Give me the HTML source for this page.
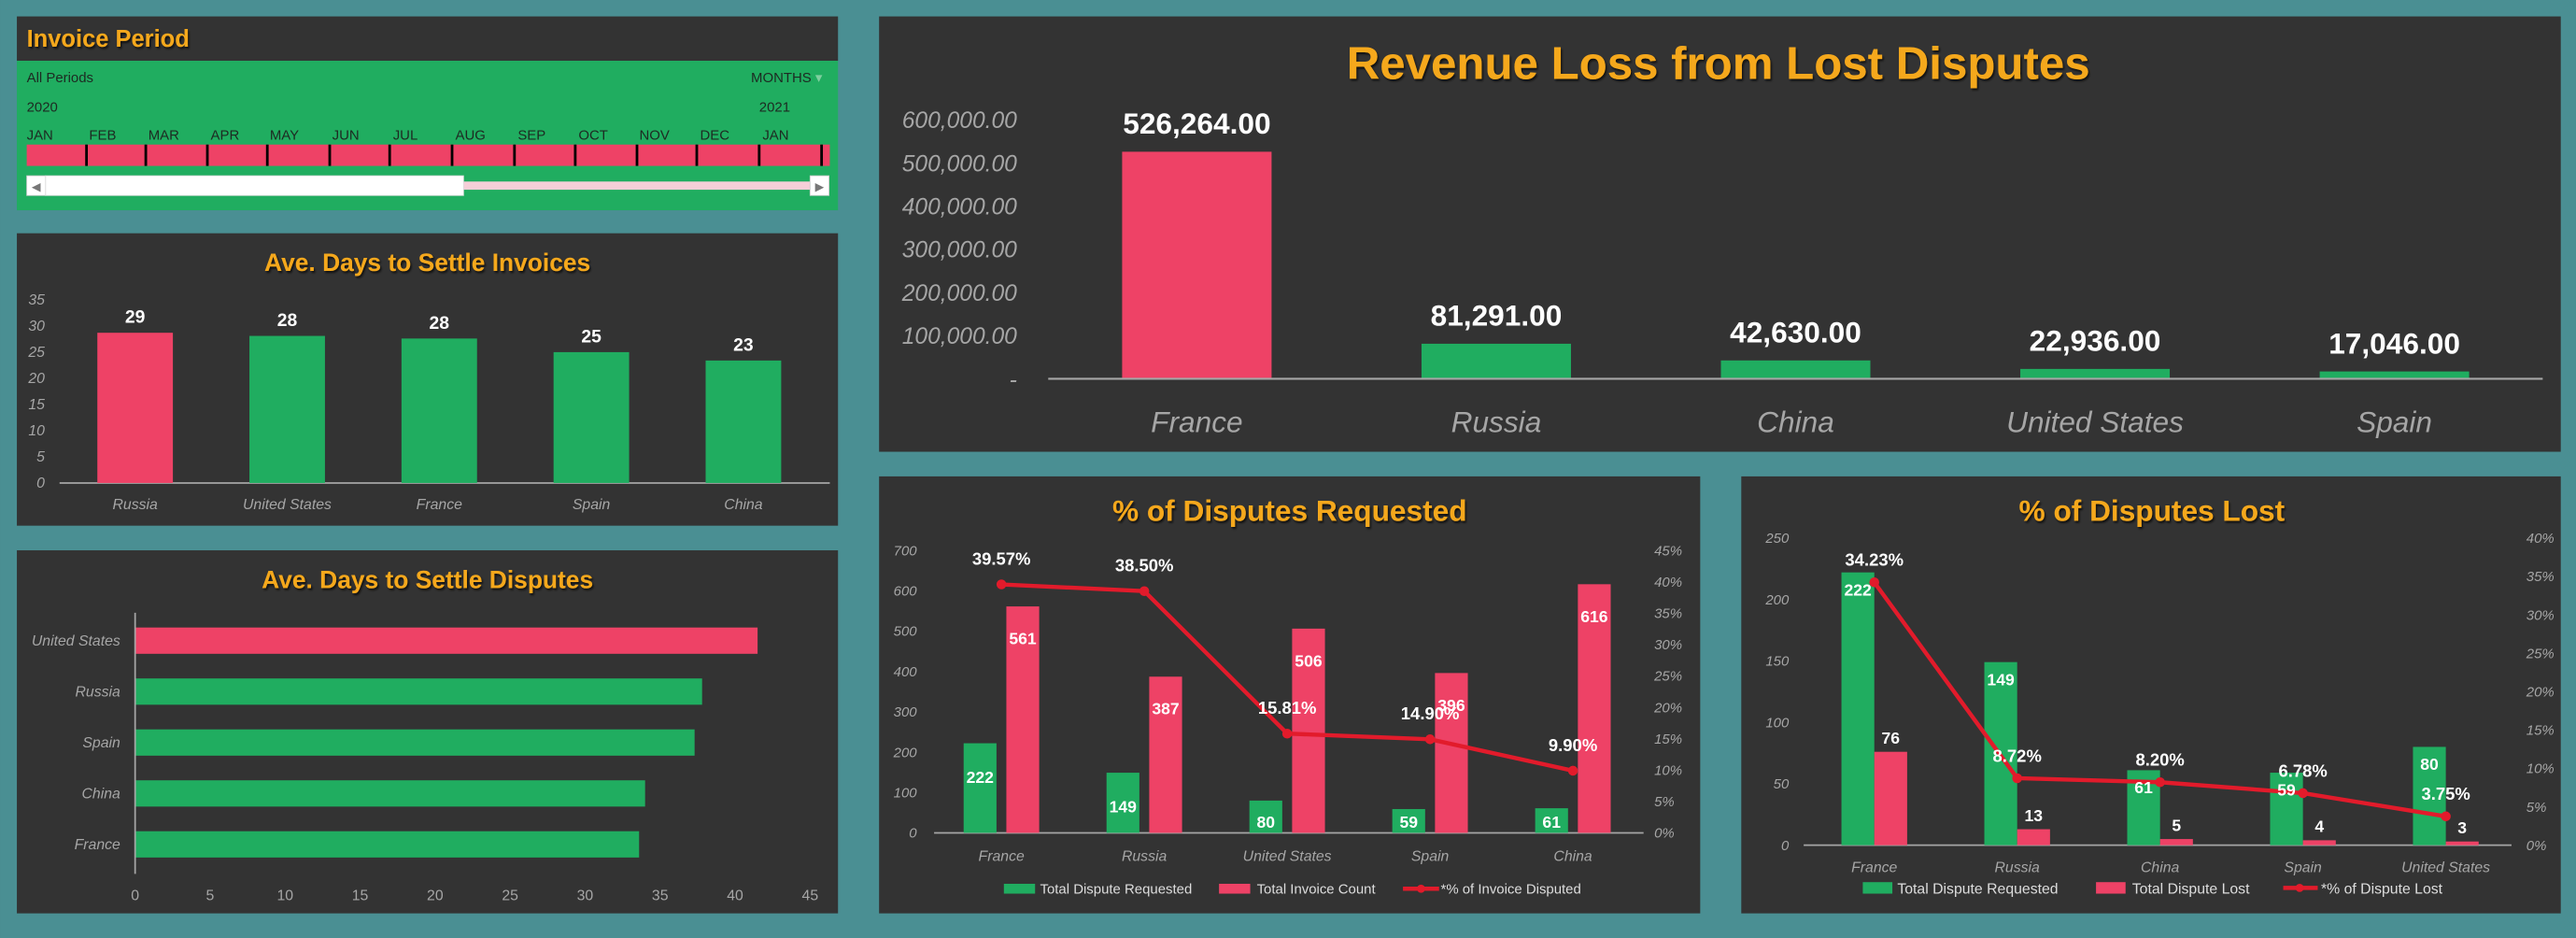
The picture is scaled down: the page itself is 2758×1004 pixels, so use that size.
<!DOCTYPE html>
<html><head><meta charset="utf-8">
<style>
html,body{margin:0;padding:0;background:#4a8f93;width:2758px;height:1004px;overflow:hidden}
svg{display:block}
text{font-family:"Liberation Sans",sans-serif}
.t{fill:#f5a81c;font-weight:bold}
.ax{fill:#a6a6a6;font-style:italic}
.v{fill:#fff;font-weight:bold}
.sl{fill:#1d2a22;font-size:8.5px}
</style></head>
<body>
<svg id="dash" width="2758" height="1004" viewBox="0 0 1568 571" xmlns="http://www.w3.org/2000/svg">
<defs><filter id="sh" x="-5%" y="-20%" width="110%" height="150%"><feDropShadow dx="0.8" dy="1.2" stdDeviation="0.6" flood-color="#000" flood-opacity="0.7"/></filter></defs>
<rect width="1568" height="571" fill="#4a8f93"/>

<g>
<rect x="10" y="10" width="500" height="27" fill="#333"/>
<text x="16" y="28.5" class="t" font-size="14.5" filter="url(#sh)">Invoice Period</text>
<rect x="10" y="37" width="500" height="91" fill="#20ad60"/>
<text x="16" y="50" class="sl">All Periods</text>
<text x="457" y="50" class="sl" font-size="8">MONTHS <tspan fill="#7fcf9f">▾</tspan></text>
<text x="16" y="68" class="sl">2020</text>
<text x="462" y="68" class="sl">2021</text>
<g class="sl">
<text x="16" y="85">JAN</text><text x="54" y="85">FEB</text><text x="90" y="85">MAR</text><text x="128" y="85">APR</text><text x="164" y="85">MAY</text><text x="202" y="85">JUN</text><text x="239" y="85">JUL</text><text x="277" y="85">AUG</text><text x="315" y="85">SEP</text><text x="352" y="85">OCT</text><text x="389" y="85">NOV</text><text x="426" y="85">DEC</text><text x="464" y="85">JAN</text>
</g>
<rect x="16" y="88" width="489" height="13" fill="#ee4266"/>
<g stroke="#000" stroke-width="1.6">
<line x1="52.4" y1="88" x2="52.4" y2="101"/><line x1="88.5" y1="88" x2="88.5" y2="101"/><line x1="126" y1="88" x2="126" y2="101"/><line x1="162.5" y1="88" x2="162.5" y2="101"/><line x1="200.5" y1="88" x2="200.5" y2="101"/><line x1="237" y1="88" x2="237" y2="101"/><line x1="275" y1="88" x2="275" y2="101"/><line x1="313" y1="88" x2="313" y2="101"/><line x1="350" y1="88" x2="350" y2="101"/><line x1="387.6" y1="88" x2="387.6" y2="101"/><line x1="424" y1="88" x2="424" y2="101"/><line x1="462" y1="88" x2="462" y2="101"/><line x1="500" y1="88" x2="500" y2="101"/>
</g>
<rect x="282" y="110.5" width="211" height="5" fill="#f6cfd8"/>
<rect x="16" y="107" width="11.5" height="12" fill="#fff" stroke="#ccc" stroke-width="0.5"/>
<text x="19" y="116" font-size="7" fill="#777">◀</text>
<rect x="27.5" y="107" width="254.5" height="12" fill="#fff" stroke="#ddd" stroke-width="0.5"/>
<rect x="493" y="107" width="11.5" height="12" fill="#fff" stroke="#ccc" stroke-width="0.5"/>
<text x="496" y="116" font-size="7" fill="#777">▶</text>
</g>

<rect x="10" y="142" width="500" height="178" fill="#333"/>
<text x="260" y="165" text-anchor="middle" class="t" font-size="15" filter="url(#sh)">Ave. Days to Settle Invoices</text>
<rect x="10" y="335" width="500" height="221" fill="#333"/>
<text x="260" y="358" text-anchor="middle" class="t" font-size="15" filter="url(#sh)">Ave. Days to Settle Disputes</text>
<rect x="535" y="10" width="1024" height="265" fill="#333"/>
<text x="1046" y="48" text-anchor="middle" class="t" font-size="28" filter="url(#sh)">Revenue Loss from Lost Disputes</text>
<rect x="535" y="290" width="500" height="266" fill="#333"/>
<text x="785" y="317" text-anchor="middle" class="t" font-size="18" filter="url(#sh)">% of Disputes Requested</text>
<rect x="1060" y="290" width="499" height="266" fill="#333"/>
<text x="1310" y="317" text-anchor="middle" class="t" font-size="18" filter="url(#sh)">% of Disputes Lost</text>

<g id="c1"></g><g id="c2"></g><g id="c3"></g><g id="c4"></g><g id="c5"></g>

<g font-size="8.5" fill="#ddd">
<rect x="611" y="538" width="19" height="6" fill="#20ad60"/>
<text x="633" y="544" fill="#ddd">Total Dispute Requested</text>
<rect x="742" y="538" width="19" height="6" fill="#ee4266"/>
<text x="765" y="544" fill="#ddd">Total Invoice Count</text>
<line x1="854" y1="541" x2="876" y2="541" stroke="#e21b2b" stroke-width="2.5"/>
<circle cx="865" cy="541" r="2.5" fill="#e21b2b"/>
<text x="877" y="544" fill="#ddd">*% of Invoice Disputed</text>
</g>
<g font-size="9">
<rect x="1134" y="537" width="18" height="7" fill="#20ad60"/>
<text x="1155" y="544" fill="#ddd">Total Dispute Requested</text>
<rect x="1276" y="537" width="18" height="7" fill="#ee4266"/>
<text x="1298" y="544" fill="#ddd">Total Dispute Lost</text>
<line x1="1390" y1="540.5" x2="1411" y2="540.5" stroke="#e21b2b" stroke-width="2.5"/>
<circle cx="1400" cy="540.5" r="2.5" fill="#e21b2b"/>
<text x="1413" y="544" fill="#ddd">*% of Dispute Lost</text>
</g>
</svg>
<script>
const invCats=['Russia','United States','France','Spain','China'];
const invVals=[28.7,28.1,27.6,25.0,23.4];
const invLabels=['29','28','28','25','23'];
const invTicks=[0,5,10,15,20,25,30,35];

const dspCats=['United States','Russia','Spain','China','France'];
const dspVals=[41.5,37.8,37.3,34.0,33.6];
const dspTicks=[0,5,10,15,20,25,30,35,40,45];

const revCats=['France','Russia','China','United States','Spain'];
const revVals=[526264,81291,42630,22936,17046];
const revTicks=[0,100000,200000,300000,400000,500000,600000];
const revTickLabels=['-','100,000.00','200,000.00','300,000.00','400,000.00','500,000.00','600,000.00'];

const reqCats=['France','Russia','United States','Spain','China'];
const reqDisputes=[222,149,80,59,61];
const reqInvoices=[561,387,506,396,616];
const reqPct=[39.57,38.50,15.81,14.90,9.90];
const reqTicks=[0,100,200,300,400,500,600,700];
const reqPctTicks=[0,5,10,15,20,25,30,35,40,45];

const lostCats=['France','Russia','China','Spain','United States'];
const lostRequested=[222,149,61,59,80];
const lostLost=[76,13,5,4,3];
const lostPct=[34.23,8.72,8.20,6.78,3.75];
const lostTicks=[0,50,100,150,200,250];
const lostPctTicks=[0,5,10,15,20,25,30,35,40];

const NS='http://www.w3.org/2000/svg';
function mk(tag,attrs,parent,txt){const e=document.createElementNS(NS,tag);for(const k in attrs)e.setAttribute(k,attrs[k]);if(txt!==undefined)e.textContent=txt;parent.appendChild(e);return e;}
const GREEN='#20ad60',PINK='#ee4266',RED='#e21b2b',GRID='#a6a6a6';
function fmt(n){return n.toLocaleString('en-US',{minimumFractionDigits:2,maximumFractionDigits:2});}

(function(){
 const g=document.getElementById('c1');
 const y=v=>294-v*(111.5/35), x=i=>82+i*92.6;
 invTicks.forEach(t=>{const e=mk('text',{x:27,y:y(t)+3,'text-anchor':'end','font-size':9,class:'ax'},g,t);
 
 });
 const ax=mk('line',{x1:36,y1:294,x2:505,y2:294,stroke:GRID,'stroke-width':1},g);
 
 
 invCats.forEach((c,i)=>{
  const r=mk('rect',{x:x(i)-23,y:y(invVals[i]),width:46,height:294-y(invVals[i]),fill:i===0?PINK:GREEN},g);
  
  
  const l=mk('text',{x:x(i),y:y(invVals[i])-6,'text-anchor':'middle','font-size':11,class:'v'},g,invLabels[i]);
  
  
  const cl=mk('text',{x:x(i),y:310,'text-anchor':'middle','font-size':9,class:'ax'},g,c);
  
  
 });
})();

(function(){
 const g=document.getElementById('c2');
 const x=v=>82+v*(411/45), y=i=>390+i*31;
 dspTicks.forEach(t=>{const e=mk('text',{x:x(t),y:548,'text-anchor':'middle','font-size':9,fill:GRID},g,t);
 
 });
 dspCats.forEach((c,i)=>{
  const r=mk('rect',{x:82,y:y(i)-8,width:x(dspVals[i])-82,height:16,fill:i===0?PINK:GREEN},g);
  
  
  const cl=mk('text',{x:73,y:y(i)+3,'text-anchor':'end','font-size':9,class:'ax'},g,c);
  
  
 });
 const ax=mk('line',{x1:82,y1:373,x2:82,y2:532,stroke:GRID,'stroke-width':1},g);
 
 
})();

(function(){
 const g=document.getElementById('c3');
 const y=v=>230.6-v*(157.6/600000), x=i=>728.5+i*182.3;
 revTicks.forEach((t,i)=>{const e=mk('text',{x:619,y:y(t)+5,'text-anchor':'end','font-size':14,class:'ax'},g,revTickLabels[i]);
 
 });
 revCats.forEach((c,i)=>{
  const r=mk('rect',{x:x(i)-45.5,y:y(revVals[i]),width:91,height:230.6-y(revVals[i]),fill:i===0?PINK:GREEN},g);
  
  
  const l=mk('text',{x:x(i),y:y(revVals[i])-11,'text-anchor':'middle','font-size':18,class:'v'},g,fmt(revVals[i]));
  
  
  const cl=mk('text',{x:x(i),y:263,'text-anchor':'middle','font-size':18,class:'ax'},g,c);
  
  
 });
 const ax=mk('line',{x1:638,y1:230.6,x2:1548,y2:230.6,stroke:GRID,'stroke-width':1.2},g);
 
 
})();

function combo(gid,cats,s1,s2,pct,ticks,pticks,o){
 const g=document.getElementById(gid);
 const y=v=>o.y0-v*(o.y0-o.yTop)/ticks[ticks.length-1];
 const yp=v=>o.y0-v*(o.y0-o.yTop)/pticks[pticks.length-1];
 const x=i=>o.x0+i*87;
 ticks.forEach(t=>{const e=mk('text',{x:o.lx,y:y(t)+3,'text-anchor':'end','font-size':8.5,class:'ax'},g,t);
 
 });
 pticks.forEach(t=>{const e=mk('text',{x:o.rx,y:yp(t)+3,'text-anchor':'start','font-size':8.5,class:'ax'},g,t+'%');
 
 });
 const ax=mk('line',{x1:o.ax1,y1:o.y0,x2:o.ax2,y2:o.y0,stroke:GRID,'stroke-width':1},g);
 
 
 cats.forEach((c,i)=>{
  const b1=mk('rect',{x:x(i)-o.off1,y:y(s1[i]),width:o.bw,height:o.y0-y(s1[i]),fill:GREEN},g);
  
  
  const b2=mk('rect',{x:x(i)+o.off2,y:y(s2[i]),width:o.bw,height:o.y0-y(s2[i]),fill:PINK},g);
  
  
  const cl=mk('text',{x:x(i),y:o.catY,'text-anchor':'middle','font-size':9,class:'ax'},g,c);
  
  
 });
 const pts=pct.map((p,i)=>x(i)+','+yp(p)).join(' ');
 const ln=mk('polyline',{points:pts,fill:'none',stroke:RED,'stroke-width':2.5,'stroke-linejoin':'round'},g);
 
 
 cats.forEach((c,i)=>{
  const m=mk('circle',{cx:x(i),cy:yp(pct[i]),r:3,fill:RED},g);
  
  
  const l1=mk('text',{x:x(i)-o.off1+o.bw/2,y:Math.min(y(s1[i])+o.l1dy,o.y0-3),'text-anchor':'middle','font-size':10,class:'v'},g,s1[i]);
  
  
  const l2y=o.l2above?y(s2[i])-5:y(s2[i])+23;
  const l2=mk('text',{x:x(i)+o.off2+o.bw/2,y:l2y,'text-anchor':'middle','font-size':10,class:'v'},g,s2[i]);
  
  
  const pl=mk('text',{x:x(i)+o.pdx,y:yp(pct[i])-o.pdy,'text-anchor':'middle','font-size':10.5,class:'v'},g,pct[i].toFixed(2)+'%');
  
  
 });
}
combo('c4',reqCats,reqDisputes,reqInvoices,reqPct,reqTicks,reqPctTicks,
 {y0:507,yTop:335,x0:609.5,lx:558,rx:1007,ax1:568.5,ax2:1000.5,bw:20,off1:23,off2:3,catY:524,l1dy:24,l2above:false,pdx:0,pdy:12});
combo('c5',lostCats,lostRequested,lostLost,lostPct,lostTicks,lostPctTicks,
 {y0:514.5,yTop:327.5,x0:1141,lx:1089,rx:1538,ax1:1098,ax2:1529,bw:20,off1:20,off2:0,catY:531,l1dy:14,l2above:true,pdx:0,pdy:10});
</script>
</body></html>
